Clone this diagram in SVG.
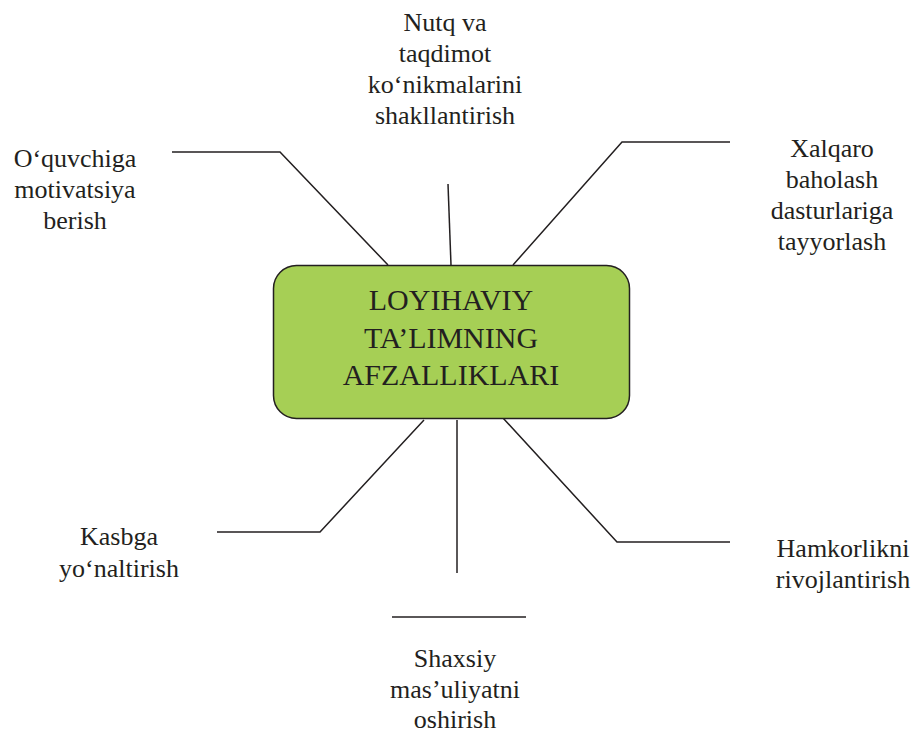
<svg xmlns="http://www.w3.org/2000/svg" width="917" height="733" viewBox="0 0 917 733">
<style>
.t{font-size:26px;fill:#231f20;text-anchor:middle}
.c{font-size:30px;fill:#231f20;text-anchor:middle}
.ln{fill:none;stroke:#231f20;stroke-width:1.5}
</style>
<rect width="917" height="733" fill="#ffffff"/>
<g id="connectors">
<polyline class="ln" points="172,152 280,152 388,265"/>
<polyline class="ln" points="448,184 451,265"/>
<polyline class="ln" points="513,265 622,142 730,142"/>
<polyline class="ln" points="424,420 320,532 217,532"/>
<polyline class="ln" points="457,420 457,573"/>
<polyline class="ln" points="503,418 617,542 730,542"/>
<polyline class="ln" points="392,617 526,617"/>
</g>
<g font-family="Liberation Serif, DejaVu Serif, serif">
<g id="center">
<rect x="273.5" y="265.5" width="356" height="153" rx="23" ry="23" fill="#a6cf55" stroke="#231f20" stroke-width="1.5"/>
<text class="c" x="451" y="310">LOYIHAVIY</text>
<text class="c" x="451" y="348">TA’LIMNING</text>
<text class="c" x="451" y="385">AFZALLIKLARI</text>
</g>
<g id="nutq">
<text class="t" x="445" y="31">Nutq va</text>
<text class="t" x="445" y="62">taqdimot</text>
<text class="t" x="445" y="93">ko‘nikmalarini</text>
<text class="t" x="445" y="124">shakllantirish</text>
</g>
<g id="motivatsiya">
<text class="t" x="75" y="167">O‘quvchiga</text>
<text class="t" x="75" y="198">motivatsiya</text>
<text class="t" x="75" y="229">berish</text>
</g>
<g id="xalqaro">
<text class="t" x="832" y="157">Xalqaro</text>
<text class="t" x="832" y="188">baholash</text>
<text class="t" x="832" y="219">dasturlariga</text>
<text class="t" x="832" y="250">tayyorlash</text>
</g>
<g id="kasbga">
<text class="t" x="119" y="545">Kasbga</text>
<text class="t" x="119" y="577">yo‘naltirish</text>
</g>
<g id="hamkorlik">
<text class="t" x="843" y="557">Hamkorlikni</text>
<text class="t" x="843" y="588">rivojlantirish</text>
</g>
<g id="shaxsiy">
<text class="t" x="455" y="667">Shaxsiy</text>
<text class="t" x="455" y="698">mas’uliyatni</text>
<text class="t" x="455" y="728">oshirish</text>
</g>
</g>
</svg>
